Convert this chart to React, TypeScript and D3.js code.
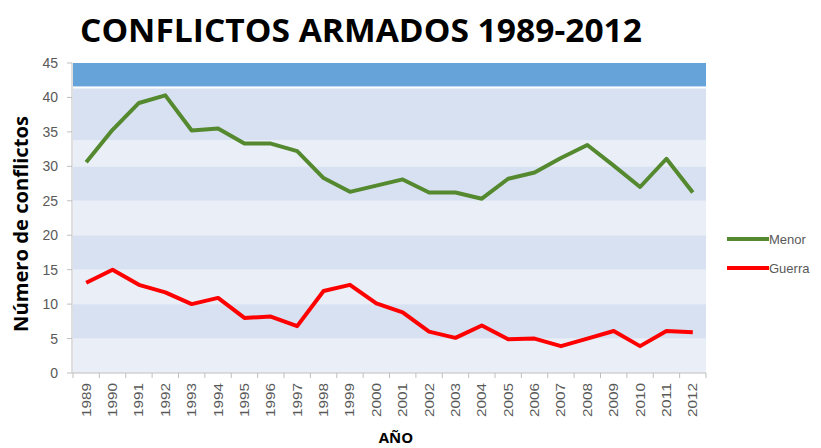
import React from "react";
import * as d3 from "d3";

const years = ["1989","1990","1991","1992","1993","1994","1995","1996","1997","1998","1999","2000","2001","2002","2003","2004","2005","2006","2007","2008","2009","2010","2011","2012"];
const menor = [30.6,35.3,39.2,40.3,35.2,35.5,33.3,33.3,32.2,28.3,26.3,27.2,28.1,26.2,26.2,25.3,28.2,29.1,31.2,33.1,30.1,27.0,31.1,26.2];
const guerra = [13.1,15.0,12.8,11.7,10.0,10.9,8.0,8.2,6.8,11.9,12.8,10.1,8.8,6.0,5.1,6.9,4.9,5.0,3.9,5.0,6.1,3.9,6.1,5.9];
const yTicks = [0,5,10,15,20,25,30,35,40,45];
const bands = [
  { from: 0, to: 5, fill: "#eaeff7" },
  { from: 5, to: 10, fill: "#d8e1f1" },
  { from: 10, to: 15, fill: "#eaeff7" },
  { from: 15, to: 20, fill: "#d8e1f1" },
  { from: 20, to: 25, fill: "#eaeff7" },
  { from: 25, to: 30, fill: "#d8e1f1" },
  { from: 30, to: 33.8, fill: "#eaeff7" },
  { from: 33.8, to: 41.3, fill: "#d8e1f1" },
  { from: 41.6, to: 45, fill: "#66a3d9" },
];
const seriesNames = ["Menor", "Guerra"];
const seriesColors = ["#55892f", "#ff0000"];

export default function App() {
  const W = 821, H = 448;
  const left = 73, right = 706, top = 63, bottom = 373;
  const x = d3.scaleBand().domain(years).range([left, right]);
  const y = d3.scaleLinear().domain([0, 45]).range([bottom, top]);
  const cx = (d: string) => (x(d) as number) + x.bandwidth() / 2;
  const line = d3.line<number>().x((_, i) => cx(years[i])).y(v => y(v));
  const data = [menor, guerra];
  const grey = "#595959";
  return (
    <svg width={W} height={H} style={{ position: "absolute", left: 0, top: 0, background: "#fff" }}>
      <text x={80} y={42} fontFamily="'Open Sans', 'Liberation Sans', sans-serif" fontWeight="bold" fontSize={32} fill="#000" textLength={562} lengthAdjust="spacingAndGlyphs">CONFLICTOS ARMADOS 1989-2012</text>
      {bands.map((b, i) => (
        <rect key={i} x={left} width={right - left} y={y(b.to)} height={y(b.from) - y(b.to)} fill={b.fill} />
      ))}
      <line x1={left - 1} x2={left - 1} y1={top} y2={bottom} stroke="#bfbfbf" />
      <line x1={left - 1} x2={right} y1={bottom} y2={bottom} stroke="#bfbfbf" />
      {yTicks.map(t => (
        <g key={t}>
          <line x1={left - 6} x2={left - 1} y1={y(t)} y2={y(t)} stroke="#bfbfbf" />
          <text x={58} y={y(t) + 5} textAnchor="end" fontFamily="'Liberation Sans', sans-serif" fontSize={14} fill={grey}>{t}</text>
        </g>
      ))}
      {years.map((yr) => (
        <g key={yr}>
          <line x1={x(yr) as number} x2={x(yr) as number} y1={bottom} y2={bottom + 5} stroke="#bfbfbf" />
          <text transform={`translate(${cx(yr) + 4.5},${bottom + 10}) rotate(-90)`} textAnchor="end" fontFamily="'Liberation Sans', sans-serif" fontSize={13} fill={grey} textLength={34} lengthAdjust="spacingAndGlyphs">{yr}</text>
        </g>
      ))}
      <line x1={right} x2={right} y1={bottom} y2={bottom + 5} stroke="#bfbfbf" />
      {data.map((s, i) => (
        <path key={i} d={line(s) as string} fill="none" stroke={seriesColors[i]} strokeWidth={4} strokeLinejoin="round" />
      ))}
      <text transform={`translate(28,${(top + bottom) / 2 + 6}) rotate(-90)`} textAnchor="middle" fontFamily="'Open Sans', 'Liberation Sans', sans-serif" fontWeight="bold" fontSize={19} fill="#000" textLength={216} lengthAdjust="spacingAndGlyphs">Número de conflictos</text>
      <text x={396} y={443} textAnchor="middle" fontFamily="'Open Sans', 'Liberation Sans', sans-serif" fontWeight="bold" fontSize={15} fill="#000">AÑO</text>
      {seriesNames.map((n, i) => (
        <g key={n} transform={`translate(727,${239 + i * 29})`}>
          <line x1={0} x2={42} y1={0} y2={0} stroke={seriesColors[i]} strokeWidth={4} />
          <text x={42} y={5} fontFamily="'Liberation Sans', sans-serif" fontSize={13} fill={grey}>{n}</text>
        </g>
      ))}
    </svg>
  );
}
